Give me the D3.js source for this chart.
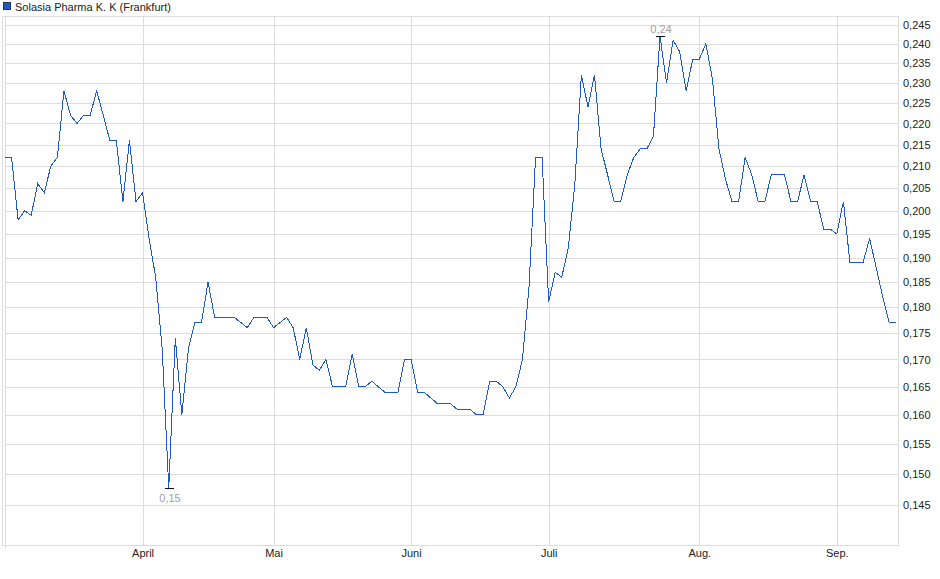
<!DOCTYPE html>
<html>
<head>
<meta charset="utf-8">
<script src="https://cdn.jsdelivr.net/npm/d3@7"></script>
<style>
  html, body { margin: 0; padding: 0; background: #fff; }
  svg { display: block; font-family: "Liberation Sans", Arial, sans-serif; }
</style>
</head>
<body>
<svg id="chart" width="940" height="579"></svg>
<script>
// ---- data ----
const seriesName = "Solasia Pharma K. K (Frankfurt)";
const prices = [
  0.212, 0.212, 0.198, 0.200, 0.199, 0.206, 0.204, 0.210, 0.212, 0.228,
  0.222, 0.220, 0.222, 0.222, 0.228, 0.222, 0.216, 0.216, 0.202, 0.216,
  0.202, 0.204, 0.194, 0.186, 0.172, 0.1477, 0.174, 0.160, 0.172, 0.177,
  0.177, 0.185, 0.178, 0.178, 0.178, 0.178, 0.177, 0.176, 0.178, 0.178,
  0.178, 0.176, 0.177, 0.178, 0.176, 0.170, 0.176, 0.169, 0.168, 0.170,
  0.165, 0.165, 0.165, 0.171, 0.165, 0.165, 0.166, 0.165, 0.164, 0.164,
  0.164, 0.170, 0.170, 0.164, 0.164, 0.163, 0.162, 0.162, 0.162, 0.161,
  0.161, 0.161, 0.160, 0.160, 0.166, 0.166, 0.165, 0.163, 0.165, 0.170,
  0.184, 0.212, 0.212, 0.181, 0.187, 0.186, 0.192, 0.206, 0.232, 0.224,
  0.232, 0.214, 0.208, 0.202, 0.202, 0.208, 0.212, 0.214, 0.214, 0.217,
  0.242, 0.230, 0.241, 0.238, 0.228, 0.236, 0.236, 0.240, 0.231, 0.214,
  0.207, 0.202, 0.202, 0.212, 0.208, 0.202, 0.202, 0.208, 0.208, 0.208,
  0.202, 0.202, 0.208, 0.202, 0.202, 0.196, 0.196, 0.195, 0.202, 0.189,
  0.189, 0.189, 0.194, 0.188, 0.182, 0.177, 0.177
];
const monthLabels = ["April", "Mai", "Juni", "Juli", "Aug.", "Sep."];
const monthStartIndex = [21, 41, 62, 83, 106, 127];
const yTickValues = [0.145, 0.150, 0.155, 0.160, 0.165, 0.170, 0.175, 0.180, 0.185,
  0.190, 0.195, 0.200, 0.205, 0.210, 0.215, 0.220, 0.225, 0.230, 0.235, 0.240, 0.245];

// ---- layout ----
const plot = { left: 5, right: 898, top: 16, bottom: 545 };
const svg = d3.select("#chart");

const x = d3.scaleLinear().domain([0, prices.length - 1]).range([5, 895.8]);
const y = d3.scaleLog().domain([0.145, 0.245]).range([505, 25]);

const de = d3.formatLocale({ decimal: ",", thousands: ".", grouping: [3], currency: ["", " €"] });
const fmtY = de.format(".3f");
const fmtExt = v => de.format(".2f")(v);

const gridColor = "#dcdcdc";

// horizontal grid
svg.append("g").selectAll("line").data(yTickValues).join("line")
  .attr("x1", plot.left).attr("x2", plot.right)
  .attr("y1", d => Math.round(y(d)) + 0.5).attr("y2", d => Math.round(y(d)) + 0.5)
  .attr("stroke", gridColor).attr("stroke-width", 1);

// vertical grid at month starts
svg.append("g").selectAll("line").data(monthStartIndex).join("line")
  .attr("x1", d => Math.round(x(d)) + 0.5).attr("x2", d => Math.round(x(d)) + 0.5)
  .attr("y1", plot.top).attr("y2", plot.bottom)
  .attr("stroke", gridColor).attr("stroke-width", 1);

// frame
const frame = svg.append("g").attr("stroke", gridColor).attr("stroke-width", 1).attr("fill", "none");
frame.append("line").attr("x1", 2.5).attr("x2", 2.5).attr("y1", plot.top).attr("y2", plot.bottom + 1);
frame.append("line").attr("x1", 5.5).attr("x2", 5.5).attr("y1", plot.top).attr("y2", plot.bottom + 3);
frame.append("line").attr("x1", 2.5).attr("x2", plot.right + 0.5).attr("y1", plot.top + 0.5).attr("y2", plot.top + 0.5);
frame.append("line").attr("x1", 2.5).attr("x2", plot.right + 0.5).attr("y1", plot.bottom + 0.5).attr("y2", plot.bottom + 0.5);
frame.append("line").attr("x1", plot.right + 0.5).attr("x2", plot.right + 0.5).attr("y1", plot.top).attr("y2", plot.bottom + 1);

// right y axis labels
const yAxis = d3.axisRight(y).tickValues(yTickValues).tickFormat(fmtY).tickSize(0).tickPadding(0);
const gy = svg.append("g").attr("transform", `translate(903,0)`).call(yAxis);
gy.select(".domain").remove();
gy.selectAll("text").attr("font-size", 11).attr("fill", "#222")
  .attr("font-family", "'Liberation Sans', Arial, sans-serif").attr("x", 0).attr("dy", "0.35em");

// month labels
const xAxis = d3.axisBottom(x).tickValues(monthStartIndex)
  .tickFormat((d, i) => monthLabels[i]).tickSize(0).tickPadding(0);
const gx = svg.append("g").attr("transform", `translate(0,${plot.bottom})`).call(xAxis);
gx.select(".domain").remove();
gx.selectAll("text").attr("font-size", 11).attr("fill", "#222")
  .attr("font-family", "'Liberation Sans', Arial, sans-serif").attr("y", 12).attr("dy", 0);

// price line
const line = d3.line().x((d, i) => x(i)).y(d => y(d));
svg.append("path").datum(prices)
  .attr("d", line)
  .attr("fill", "none")
  .attr("stroke", "#1c5bc4")
  .attr("stroke-width", 1)
  .attr("shape-rendering", "crispEdges");

// min / max markers
const maxV = d3.max(prices), minV = d3.min(prices);
const maxI = prices.indexOf(maxV), minI = prices.indexOf(minV);
const marks = svg.append("g");
[[maxI, maxV, -1], [minI, minV, 1]].forEach(([i, v, dir]) => {
  const px = Math.round(x(i)), py = Math.round(y(v)) + 0.5;
  marks.append("line").attr("x1", px - 4).attr("x2", px + 5)
    .attr("y1", py).attr("y2", py).attr("stroke", "#111").attr("stroke-width", 1);
  marks.append("text").attr("x", px + 1).attr("y", dir < 0 ? py - 4 : py + 13.5)
    .attr("text-anchor", "middle").attr("font-size", 11).attr("fill", "#a0a0a0")
    .text(fmtExt(v));
});

// legend
const legend = svg.append("g");
legend.append("rect").attr("x", 3.5).attr("y", 2.5).attr("width", 7).attr("height", 7)
  .attr("fill", "#1c5bc4").attr("stroke", "#223355").attr("stroke-width", 1);
legend.append("text").attr("x", 15).attr("y", 10.5).attr("font-size", 11).attr("fill", "#222")
  .text(seriesName);
</script>
</body>
</html>
